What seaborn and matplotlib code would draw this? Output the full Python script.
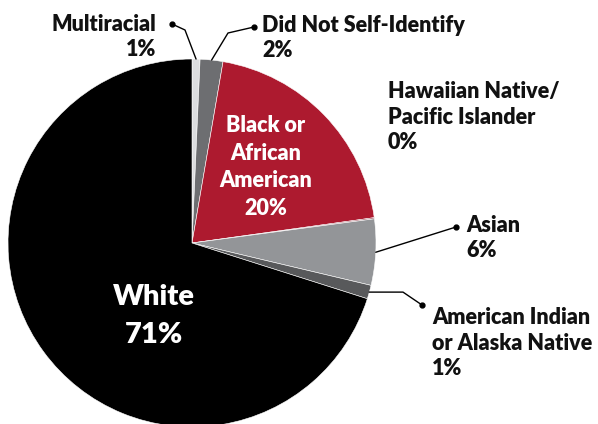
import numpy as np
import matplotlib
matplotlib.use("Agg")
import matplotlib.pyplot as plt
import seaborn as sns

# data (clockwise from 12 o'clock)
groups = ["Multiracial", "Did Not Self-Identify", "Black or African American",
          "Hawaiian Native/Pacific Islander", "Asian",
          "American Indian or Alaska Native", "White"]
shares = [0.7, 2.0, 20.1, 0.1, 5.8, 1.2, 70.1]
pct_labels = ["1%", "2%", "20%", "0%", "6%", "1%", "71%"]
colors = ["#dcdddf", "#6d6e71", "#ad1a2f", "#8a1b2b", "#939598", "#58595b", "#000000"]

sns.set_theme(style="white")
plt.rcParams["font.family"] = ["Lato", "DejaVu Sans"]

W, H = 598, 424
fig = plt.figure(figsize=(W / 100, H / 100), dpi=100)
ax = fig.add_axes([0, 0, 1, 1])

cx, cy, r = 192, H - 243, 184
wedges, _ = ax.pie(shares, colors=colors, startangle=90, counterclock=False,
                   center=(cx, cy), radius=r, frame=True,
                   wedgeprops=dict(edgecolor="white", linewidth=0.4))
ax.set_xlim(0, W)
ax.set_ylim(0, H)
ax.set_aspect("equal")
ax.axis("off")


def edge_point(i, frac=1.0):
    w = wedges[i]
    a = np.deg2rad((w.theta1 + w.theta2) / 2)
    return cx + frac * r * np.cos(a), cy + frac * r * np.sin(a)


txt = dict(fontsize=15.5, fontweight="heavy", color="#111111", linespacing=1.27)

# Multiracial
x0, y0 = edge_point(0)
ax.plot([x0, 185, 172], [y0, H - 30, H - 24], color="black", lw=1)
ax.plot(172, H - 24, "o", color="black", ms=3.5)
ax.text(156, H - 37, groups[0] + "\n" + pct_labels[0], ha="right", va="center",
        multialignment="right", **txt)

# Did Not Self-Identify
x0, y0 = edge_point(1)
ax.plot([x0, 228, 254], [y0, H - 33, H - 27], color="black", lw=1)
ax.plot(254, H - 27, "o", color="black", ms=3.5)
ax.text(262, H - 38, groups[1] + "\n" + pct_labels[1], ha="left", va="center", **txt)

# Hawaiian Native / Pacific Islander (no leader)
ax.text(388, H - 117, "Hawaiian Native/\nPacific Islander\n" + pct_labels[3],
        ha="left", va="center", **txt)

# Asian
x0, y0 = edge_point(4)
ax.plot([x0, 456], [y0, H - 227], color="black", lw=1)
ax.plot(456, H - 227, "o", color="black", ms=3.5)
ax.text(466, H - 238, groups[4] + "\n" + pct_labels[4], ha="left", va="center", **txt)

# American Indian or Alaska Native
x0, y0 = edge_point(5)
ax.plot([x0, 403, 422], [y0, y0, H - 305], color="black", lw=1)
ax.plot(422, H - 305, "o", color="black", ms=3.5)
ax.text(432, H - 343, "American Indian\nor Alaska Native\n" + pct_labels[5],
        ha="left", va="center", **txt)

# inside labels
ax.text(266, H - 167, "Black or\nAfrican\nAmerican\n" + pct_labels[2], ha="center",
        va="center", fontsize=15.5, fontweight="heavy", color="white", linespacing=1.38)
ax.text(154, H - 316, groups[6] + "\n" + pct_labels[6], ha="center", va="center",
        fontsize=21, fontweight="heavy", color="white", linespacing=1.55)

fig.savefig("out.png", dpi=100)
plt.close(fig)
